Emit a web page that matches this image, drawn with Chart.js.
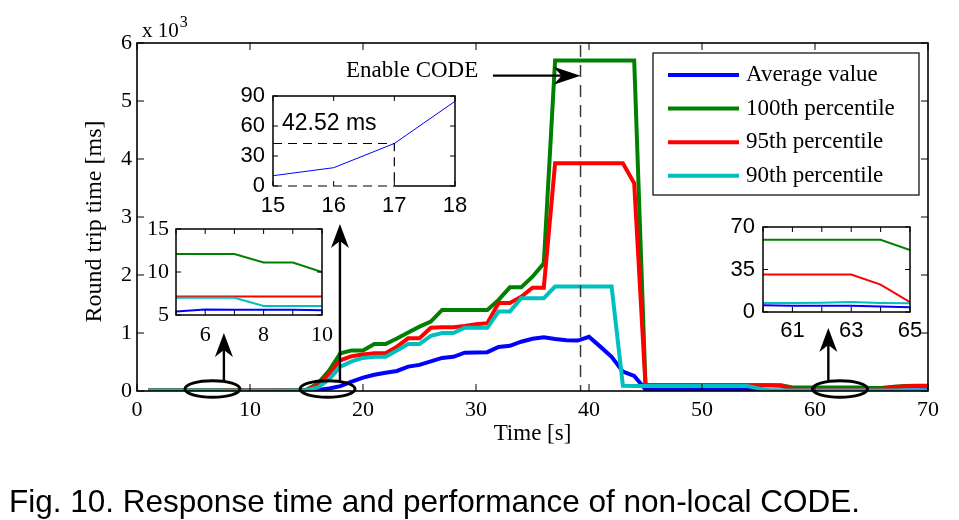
<!DOCTYPE html>
<html><head><meta charset="utf-8">
<script src="https://cdn.jsdelivr.net/npm/chart.js@4.4.1/dist/chart.umd.min.js"></script>
<style>
html,body{margin:0;padding:0;background:#fff;}
#wrap{position:relative;width:959px;height:520px;overflow:hidden;background:#fff;}
canvas{position:absolute;}
</style></head><body>
<div id="wrap">
<canvas id="main" width="959" height="520" style="left:0;top:0"></canvas>
<canvas id="inTop"></canvas>
<canvas id="inLeft"></canvas>
<canvas id="inRight"></canvas>
</div>
<script>
// ---------------- data ----------------
const times = [1,2,3,4,5,6,7,8,9,10,11,12,13,14,15,16,17,18,19,20,21,22,23,24,25,26,27,28,29,30,31,32,33,34,35,36,37,38,39,40,41,42,43,44,45,46,47,48,49,50,51,52,53,54,55,56,57,58,59,60,61,62,63,64,65,66,67,68,69,70];
const avgValue = [5.4,5.4,5.5,5.5,5.4,5.65,5.6,5.6,5.6,5.55,5.5,6,7,8,
  10.3,18.3,42.52,84.7,
  160,230,280,315,345,420,450,510,570,590,660,665,
  670,760,780,850,900,925,895,875,870,935,765,590,333,260,
  28,22,21,20,20,20,19,19,18,18,15,
  6,6,5.5,5.5,5.5,5.2,5.2,5.2,4.5,4,5,6,8,10,12];
const p100 = [12,12,12,12,12.1,12.1,12.1,11.1,11.1,10,10,10,10,11,
  20,130,350,650,
  700,700,810,810,905,1010,1110,1195,1397,1397,1397,1397,
  1397,1570,1787,1787,1970,2200,5700,5700,5700,5700,5700,5700,5700,5700,
  100,100,100,100,100,100,100,100,100,100,100,
  100,100,62,59.4,59.4,59.4,59.4,59.4,59.4,51,55,75,85,90,90];
const p95 = [7.15,7.15,7.15,7.15,7.15,7.15,7.15,7.15,7.15,7.15,7.15,7.15,7.15,7.15,
  15,100,300,530,
  600,630,650,650,765,908,908,1090,1100,1100,1120,1150,
  1170,1517,1517,1626,1782,1782,3925,3925,3925,3925,3925,3925,3925,3580,
  100,100,100,100,100,100,100,100,100,100,100,
  100,90,40,30.8,30.8,30.8,30.8,30.8,22.6,8.2,40,70,80,85,85];
const p90 = [7,7,7,7,7,7,7,6.05,6.05,6.05,6.05,6.05,6.05,7,
  12,60,200,420,
  510,570,590,590,700,810,810,950,1000,1000,1090,1090,
  1090,1370,1370,1600,1600,1600,1800,1800,1800,1800,1800,1800,90,88,
  88,88,88,88,88,88,88,88,88,88,45,
  8,8,8,7.5,7.5,7.5,7.6,8.2,7.5,7.2,7.2,7.2,7.2,7.2,7.2];
const seriesLabels = ['Average value','100th percentile','95th percentile','90th percentile'];
const seriesColors = ['#0000ff','#008000','#ff0000','#00bfbf'];
const enableTime = 39.25;          // "Enable CODE" marker (s)
const markedAverage = 42.52;       // value highlighted in the zoom inset (ms)
const mainXTicks = {min:0, max:70, step:10};
const mainYTicks = {min:0, max:6000, step:1000};

// ---------------- helpers ----------------
const SERIF = "'Liberation Serif','Times New Roman',serif";
const SANS = "'Liberation Sans',Arial,Helvetica,sans-serif";
Chart.defaults.font.family = SERIF;
Chart.defaults.color = '#000';
const seriesArrays = [avgValue, p100, p95, p90];
const drawOrder = [3,2,1,0];
function makeDatasets(width, only) {
  return seriesArrays.map((arr, i) => ({
    label: seriesLabels[i],
    data: times.map((t, k) => ({x: t, y: arr[k]})),
    borderColor: seriesColors[i],
    backgroundColor: seriesColors[i],
    borderWidth: width,
    pointRadius: 0,
    tension: 0,
    fill: false,
    order: drawOrder[i],
    hidden: only !== undefined && only !== i
  })).filter(d => !d.hidden);
}
function seg(ctx, x1, y1, x2, y2) { ctx.beginPath(); ctx.moveTo(x1, y1); ctx.lineTo(x2, y2); ctx.stroke(); }
function arrowHead(ctx, tx, ty, dx, dy, len, half, notch) {
  // (dx,dy) unit direction of arrow
  const px = -dy, py = dx;
  const bx = tx - dx * len, by = ty - dy * len;
  const nx = tx - dx * notch, ny = ty - dy * notch;
  ctx.beginPath();
  ctx.moveTo(tx, ty);
  ctx.lineTo(bx + px * half, by + py * half);
  ctx.lineTo(nx, ny);
  ctx.lineTo(bx - px * half, by - py * half);
  ctx.closePath();
  ctx.fill();
}
function drawTicksBox(ctx, chart, len, lw, dashedBottomTo) {
  const ca = chart.chartArea, xs = chart.scales.x, ys = chart.scales.y;
  ctx.strokeStyle = '#000';
  ctx.lineWidth = 1;
  xs.ticks.forEach(t => {
    const p = xs.getPixelForValue(t.value);
    seg(ctx, p, ca.bottom, p, ca.bottom - len);
    seg(ctx, p, ca.top, p, ca.top + len);
  });
  ys.ticks.forEach(t => {
    const p = ys.getPixelForValue(t.value);
    seg(ctx, ca.left, p, ca.left + len, p);
    seg(ctx, ca.right, p, ca.right - len, p);
  });
  ctx.lineWidth = lw;
  ctx.beginPath();
  if (dashedBottomTo !== undefined) {
    const dx = xs.getPixelForValue(dashedBottomTo);
    ctx.moveTo(dx, ca.bottom);
    ctx.lineTo(ca.right, ca.bottom);
    ctx.lineTo(ca.right, ca.top);
    ctx.lineTo(ca.left, ca.top);
    ctx.lineTo(ca.left, ca.bottom);
    ctx.stroke();
  } else {
    ctx.strokeRect(ca.left, ca.top, ca.right - ca.left, ca.bottom - ca.top);
  }
}

// ---------------- main chart ----------------
const mainDecor = {
  id: 'mainDecor',
  afterDatasetsDraw(chart) {
    const ctx = chart.ctx, ca = chart.chartArea, xs = chart.scales.x, ys = chart.scales.y;
    ctx.save();
    // enable-CODE dashed marker
    const ex = xs.getPixelForValue(enableTime);
    ctx.strokeStyle = '#3a3a3a'; ctx.lineWidth = 1.5; ctx.setLineDash([12, 8]);
    seg(ctx, ex, ca.top + 2, ex, ca.bottom);
    ctx.setLineDash([]);
    drawTicksBox(ctx, chart, 7, 1.6);

    // "Enable CODE" label and arrow
    ctx.fillStyle = '#000'; ctx.strokeStyle = '#000';
    ctx.font = '23px ' + SERIF; ctx.textAlign = 'right'; ctx.textBaseline = 'middle';
    const ay = ys.getPixelForValue(5436);
    ctx.fillText('Enable CODE', xs.getPixelForValue(30.2), ys.getPixelForValue(5526));
    ctx.lineWidth = 2.2;
    seg(ctx, xs.getPixelForValue(31.5), ay, ex - 18, ay);
    arrowHead(ctx, ex, ay, 1, 0, 27, 9, 19);

    // ellipses marking zoomed regions
    ctx.lineWidth = 3;
    [[6.68, 34], [16.86, 34], [62.21, 34]].forEach(([t, v]) => {
      ctx.beginPath();
      ctx.ellipse(xs.getPixelForValue(t), ys.getPixelForValue(v), 27.5, 8.3, 0, 0, Math.PI * 2);
      ctx.stroke();
    });
    // arrows to insets
    ctx.lineWidth = 2.4;
    [[7.69, 172, 1000], [17.96, 172, 2879], [61.18, 190, 1086]].forEach(([t, v0, v1]) => {
      const x = xs.getPixelForValue(t), y0 = ys.getPixelForValue(v0), y1 = ys.getPixelForValue(v1);
      seg(ctx, x, y0, x, y1 + 16);
      arrowHead(ctx, x, y1, 0, -1, 24, 9, 17);
    });

    // legend
    const lw = 266, lh = 142;
    const lx = ca.right - 9 - lw, ly = ca.top + 10;
    ctx.fillStyle = '#fff'; ctx.fillRect(lx, ly, lw, lh);
    ctx.strokeStyle = '#000'; ctx.lineWidth = 1.2; ctx.strokeRect(lx, ly, lw, lh);
    ctx.font = '23px ' + SERIF; ctx.textAlign = 'left'; ctx.textBaseline = 'middle';
    seriesLabels.forEach((lab, i) => {
      const y = ly + 22 + i * 33.6;
      ctx.strokeStyle = seriesColors[i]; ctx.lineWidth = 4;
      seg(ctx, lx + 15, y, lx + 86, y);
      ctx.fillStyle = '#000';
      ctx.fillText(lab, lx + 93, y);
    });
    ctx.restore();
  },
  afterDraw(chart) {
    const ctx = chart.ctx, ca = chart.chartArea;
    ctx.save();
    ctx.fillStyle = '#000';
    // exponent label
    ctx.font = '21px ' + SERIF; ctx.textAlign = 'left'; ctx.textBaseline = 'alphabetic';
    ctx.fillText('x 10', ca.left + 5, ca.top - 6);
    const w = ctx.measureText('x 10').width;
    ctx.font = '16px ' + SERIF;
    ctx.fillText('3', ca.left + 5 + w + 1, ca.top - 16);
    // axis titles
    ctx.font = '23px ' + SERIF; ctx.textAlign = 'center';
    ctx.fillText('Time [s]', (ca.left + ca.right) / 2, 440);
    ctx.save();
    ctx.translate(101, 221.5); ctx.rotate(-Math.PI / 2);
    ctx.font = '24px ' + SERIF;
    ctx.fillText('Round trip time [ms]', 0, 0);
    ctx.restore();
    // caption
    ctx.font = '31.5px ' + SANS; ctx.textAlign = 'left';
    ctx.fillText('Fig. 10. Response time and performance of non-local CODE.', 9, 512);
    ctx.restore();
  }
};

new Chart(document.getElementById('main'), {
  type: 'line',
  data: {datasets: makeDatasets(4)},
  options: {
    responsive: false, animation: false, events: [],
    layout: {padding: {left: 0, top: 43, right: 31, bottom: 0}},
    plugins: {legend: {display: false}, tooltip: {enabled: false}},
    scales: {
      x: {type: 'linear', min: mainXTicks.min, max: mainXTicks.max,
          afterFit: s => { s.height = 129; },
          grid: {display: false, drawTicks: false}, border: {display: false},
          ticks: {stepSize: mainXTicks.step, autoSkip: false, maxRotation: 0, padding: 6,
                  font: {family: SERIF, size: 22}, color: '#000'}},
      y: {type: 'linear', min: mainYTicks.min, max: mainYTicks.max,
          afterFit: s => { s.width = 137; },
          grid: {display: false, drawTicks: false}, border: {display: false},
          ticks: {stepSize: mainYTicks.step, padding: 5, font: {family: SERIF, size: 22}, color: '#000',
                  callback: v => String(v / 1000)}}
    }
  },
  plugins: [mainDecor]
});

// ---------------- insets ----------------
function insetChart(id, area, xo, yo, datasets, fontFam, extra) {
  const PL = 60, PT = 22, PR = 34, PB = 44;
  const cv = document.getElementById(id);
  cv.width = (area.r - area.l) + PL + PR;
  cv.height = (area.b - area.t) + PT + PB;
  cv.style.left = (area.l - PL) + 'px';
  cv.style.top = (area.t - PT) + 'px';
  const deco = {
    id: 'insetDeco' + id,
    beforeDatasetsDraw(chart) {
      const ca = chart.chartArea;
      chart.ctx.save(); chart.ctx.fillStyle = '#fff';
      chart.ctx.fillRect(ca.left, ca.top, ca.right - ca.left, ca.bottom - ca.top);
      chart.ctx.restore();
    },
    afterDatasetsDraw(chart) {
      const ctx = chart.ctx; ctx.save();
      if (extra) extra(chart, ctx);
      drawTicksBox(ctx, chart, 5, 1.5, xo.dashedTo);
      ctx.restore();
    }
  };
  datasets.forEach(d => { d.clip = 0; });
  return new Chart(cv, {
    type: 'line',
    data: {datasets},
    options: {
      responsive: false, animation: false, events: [],
      layout: {padding: {left: 0, top: PT, right: PR, bottom: 0}},
      plugins: {legend: {display: false}, tooltip: {enabled: false}},
      scales: {
        x: {type: 'linear', min: xo.min, max: xo.max,
            afterFit: s => { s.height = PB; },
            grid: {display: false, drawTicks: false}, border: {display: false},
            ticks: {stepSize: xo.step, autoSkip: false, maxRotation: 0, padding: xo.pad,
                    font: {family: fontFam, size: 22}, color: '#000', callback: xo.cb}},
        y: {type: 'linear', min: yo.min, max: yo.max,
            afterFit: s => { s.width = PL; },
            grid: {display: false, drawTicks: false}, border: {display: false},
            ticks: {stepSize: yo.step, autoSkip: false, padding: yo.pad,
                    font: {family: fontFam, size: 22}, color: '#000'}}
      }
    },
    plugins: [deco]
  });
}

// zoom of the average value around 15-18 s
insetChart('inTop', {l: 273, t: 96, r: 455, b: 186},
  {min: 15, max: 18, step: 1, pad: 7, dashedTo: 17, cb: v => String(v)},
  {min: 0, max: 90, step: 30, pad: 8},
  makeDatasets(1, 0), SANS,
  (chart, ctx) => {
    const xs = chart.scales.x, ys = chart.scales.y, ca = chart.chartArea;
    ctx.strokeStyle = '#000'; ctx.lineWidth = 1.2; ctx.setLineDash([9, 6]);
    ctx.beginPath();
    ctx.moveTo(ca.left, ys.getPixelForValue(markedAverage));
    ctx.lineTo(xs.getPixelForValue(17), ys.getPixelForValue(markedAverage));
    ctx.lineTo(xs.getPixelForValue(17), ca.bottom);
    ctx.stroke();
    ctx.beginPath();
    ctx.moveTo(ca.left, ca.bottom); ctx.lineTo(xs.getPixelForValue(17), ca.bottom);
    ctx.stroke();
    ctx.setLineDash([]);
    ctx.fillStyle = '#000'; ctx.font = '23px ' + SANS;
    ctx.textAlign = 'left'; ctx.textBaseline = 'alphabetic';
    ctx.fillText(markedAverage.toFixed(2) + ' ms', ca.left + 9, ca.top + 34);
  });

// zoom of 5-10 s
insetChart('inLeft', {l: 176, t: 229, r: 322, b: 315},
  {min: 5, max: 10, step: 1, pad: 7, cb: v => (v % 2 === 0 ? String(v) : '')},
  {min: 5, max: 15, step: 5, pad: 7},
  makeDatasets(2), SERIF);

// zoom of 60-65 s
insetChart('inRight', {l: 763, t: 227, r: 910, b: 312},
  {min: 60, max: 65, step: 1, pad: 6, cb: v => (v % 2 === 1 ? String(v) : '')},
  {min: 0, max: 70, step: 35, pad: 8},
  makeDatasets(2), SANS);
</script>
</body></html>
